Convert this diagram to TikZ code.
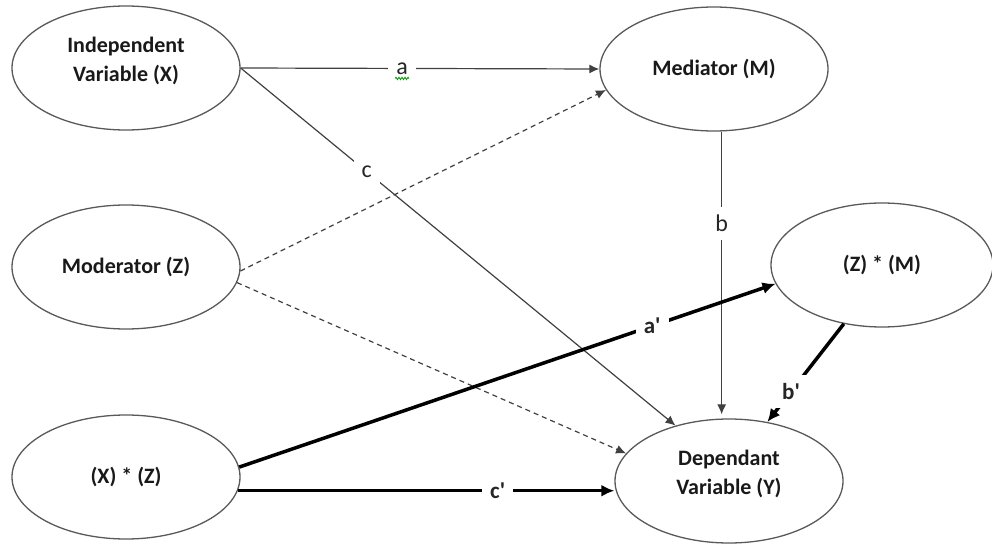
\documentclass[tikz,border=0pt]{standalone}
\usepackage{fontspec}
\setmainfont{Carlito}
\usetikzlibrary{shapes.geometric,arrows.meta,decorations.pathmorphing}
\begin{document}
\begin{tikzpicture}[x=1pt,y=-1pt,
  ell/.style={ellipse, draw=black!65, line width=1.3pt, minimum width=228pt, minimum height=124pt, inner sep=0pt},
  txt/.style={font=\fontsize{22}{29}\selectfont\bfseries, align=center, text=black!90},
  thinarr/.style={draw=black!75, line width=1.2pt, -{Latex[length=10pt,width=9pt]}},
  dasharr/.style={thinarr, dash pattern=on 5pt off 4pt},
  thickarr/.style={draw=black, line width=3.5pt, -{Latex[length=13pt,width=12pt]}},
  lbl/.style={fill=white, inner sep=8pt, font=\fontsize{24}{26}\selectfont, text=black!85},
  blbl/.style={lbl, font=\fontsize{23}{26}\selectfont\bfseries}
]
\useasboundingbox (0,0) rectangle (992,545);

\node[ell] (X) at (126,68) {};
\node[txt] (Xt) at ([yshift=7pt]X.center) {Independent\\Variable (X)};
\node[ell] (M) at (714,69) {};
\node[txt] (Mt) at (M.center) {Mediator (M)};
\node[ell] (Z) at (126,267) {};
\node[txt] (Zt) at (Z.center) {Moderator (Z)};
\node[ell, minimum width=222pt] (ZM) at (882,265) {};
\node[txt] (ZMt) at (ZM.center) {(Z) * (M)};
\node[ell] (XZ) at (126,477) {};
\node[txt] (XZt) at (XZ.center) {(X) * (Z)};
\node[ell] (Y) at (729,481) {};
\node[txt] (Yt) at ([yshift=7pt]Y.center) {Dependant\\Variable (Y)};

\draw[thinarr] (X.east) -- node[lbl,pos=0.45] (la) {a} (M.west);
\draw[green!60!black, line width=0.8pt, decorate, decoration={snake, amplitude=1.2pt, segment length=3pt}]
  ([xshift=-7pt,yshift=-10pt]la.center) -- ([xshift=7pt,yshift=-10pt]la.center);
\draw[thinarr] (X.east) -- node[lbl,pos=0.29] (lc) {c} (Y.134);
\draw[dasharr] (Z.-2) -- (M.191);
\draw[dasharr] (Z.-8) -- (Y.165);
\draw[thinarr, shorten >=4pt] (M.-83) -- node[lbl,pos=0.32] (lb) {b} (M.-83 |- Y.north);
\draw[thickarr] (XZ.5) -- node[blbl,pos=0.77] (la2) {a\textquotesingle} (ZM.190);
\draw[thickarr] (XZ.-7) -- node[blbl,pos=0.69] (lc2) {c\textquotesingle} (XZ.-7 -| Y.west);
\draw[thickarr] (ZM.-123) -- node[blbl,pos=0.69] (lb2) {b\textquotesingle} (Y.57);
\end{tikzpicture}
\end{document}
